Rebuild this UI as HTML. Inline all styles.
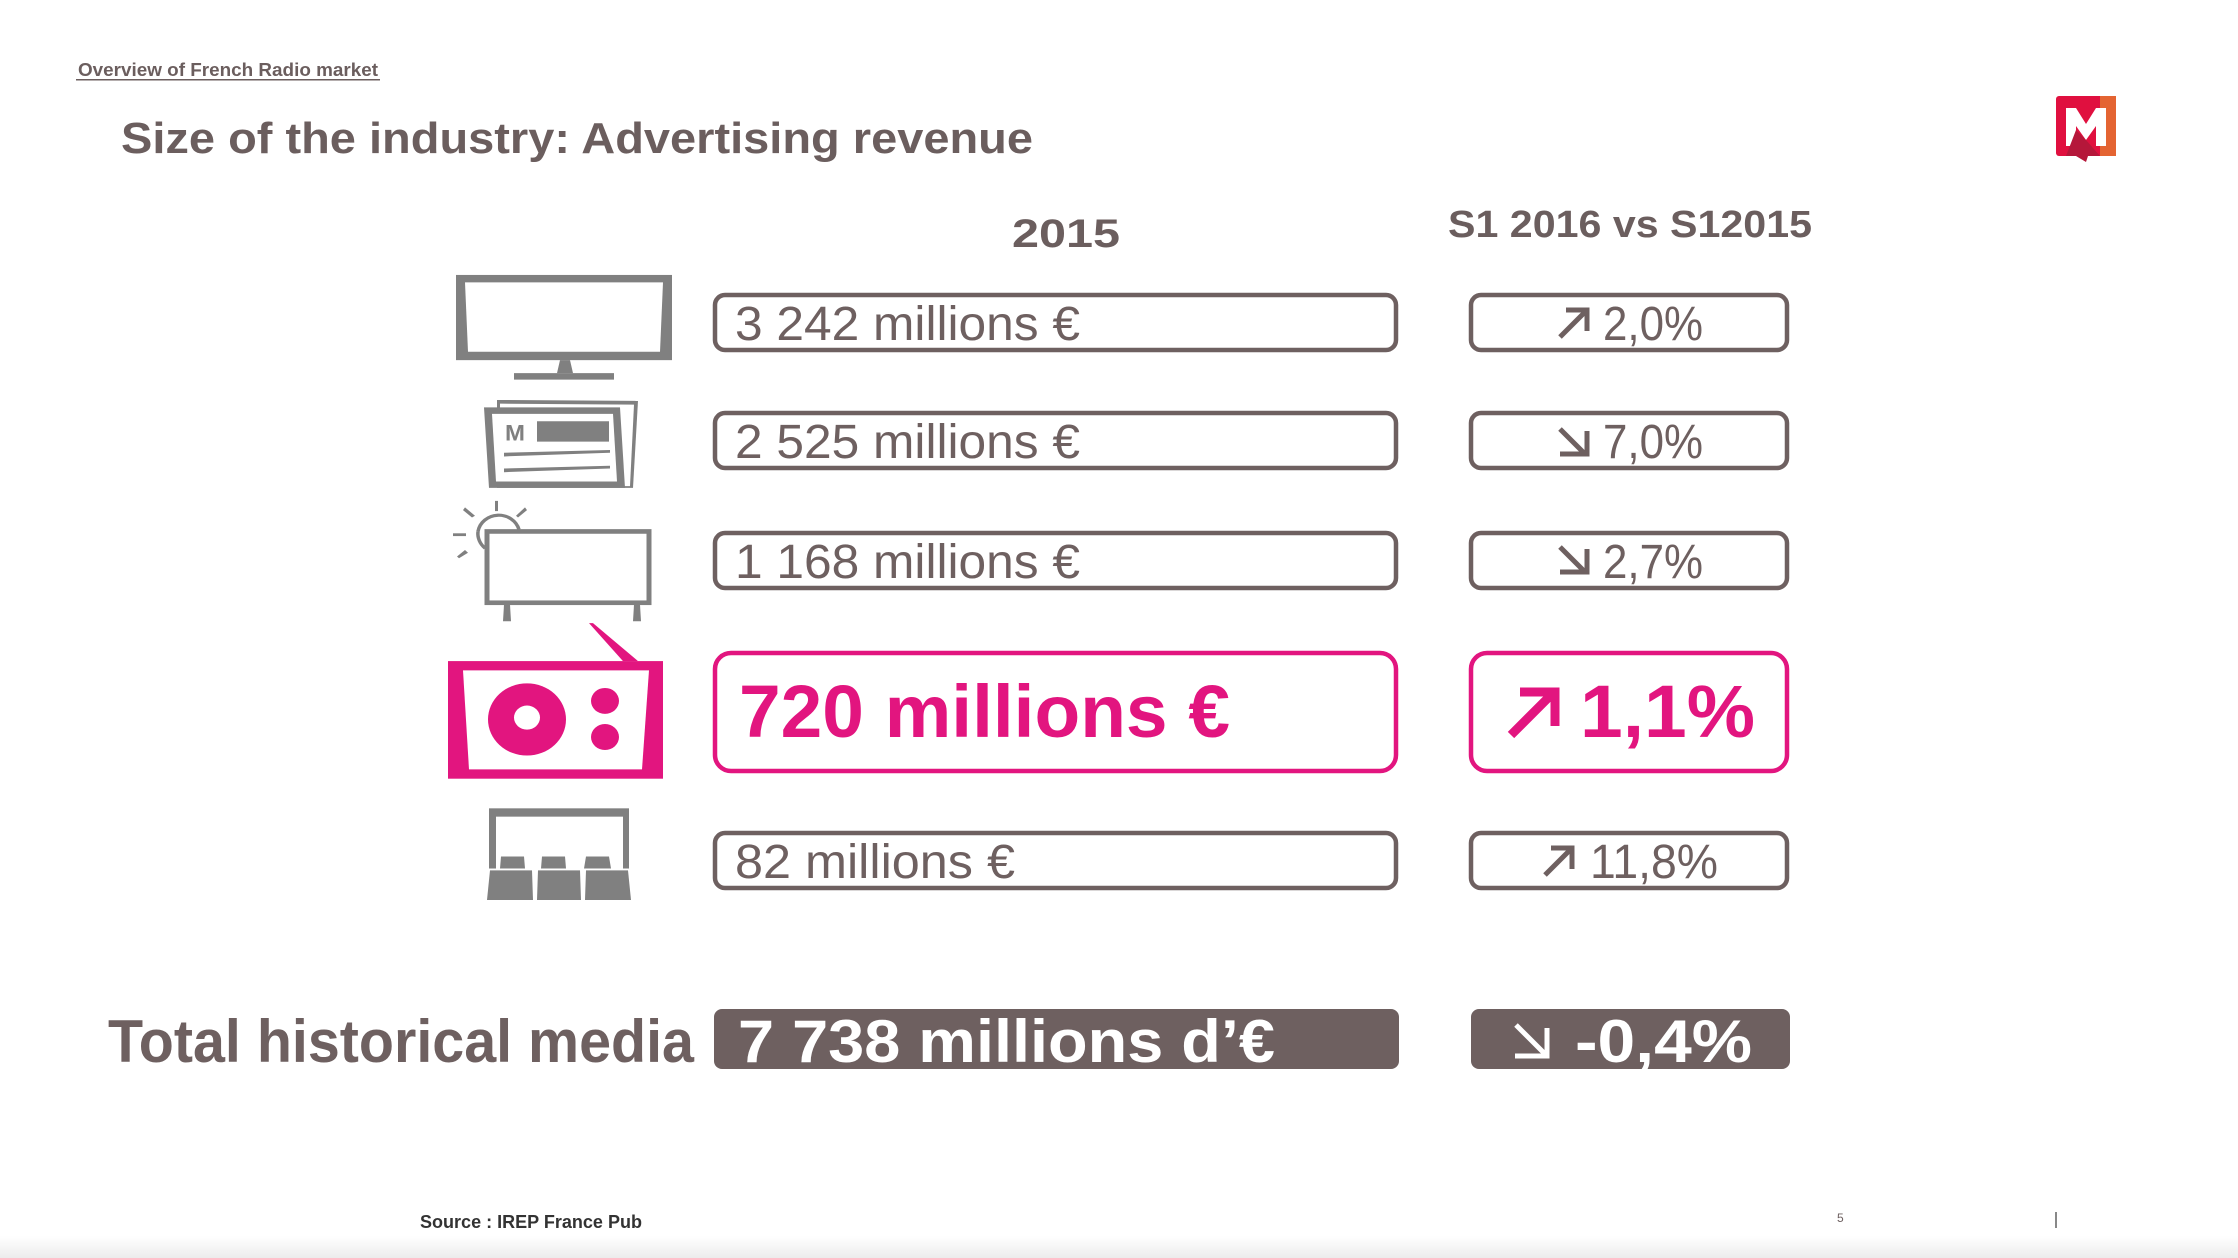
<!DOCTYPE html>
<html><head><meta charset="utf-8"><style>
html,body{margin:0;padding:0;background:#fff;width:2238px;height:1258px;overflow:hidden}
svg{display:block}
text{font-family:"Liberation Sans",sans-serif}
</style></head><body>
<svg width="2238" height="1258" viewBox="0 0 2238 1258" xmlns="http://www.w3.org/2000/svg">
<defs><linearGradient id="bg" x1="0" y1="0" x2="0" y2="1"><stop offset="0" stop-color="#fff"/><stop offset="1" stop-color="#ececec"/></linearGradient></defs>
<rect x="0" y="1236" width="2238" height="22" fill="url(#bg)"/>
<text x="78" y="76" font-size="18" font-weight="bold" fill="#6b5e5e" textLength="300" lengthAdjust="spacingAndGlyphs">Overview of French Radio market</text>
<rect x="76" y="79" width="304" height="1.5" fill="#6b5e5e"/>
<text x="121" y="153" font-size="44" font-weight="bold" fill="#6b5e5e" textLength="912" lengthAdjust="spacingAndGlyphs">Size of the industry: Advertising revenue</text>
<g>
<rect x="2056" y="96" width="60" height="60" rx="3" fill="#e0103f"/>
<polygon points="2100,96 2116,96 2116,156 2100,156" fill="#e46432"/>
<polygon points="2066,108 2076,108 2086,124 2096,108 2106,108 2106,146 2096,146 2096,126 2086,140 2076,126 2076,146 2066,146" fill="#fff"/>
<polygon points="2076,130 2086,140 2100,156 2088,156 2086,162 2076,156 2066,156" fill="#b5173a"/>
</g>
<text x="1066" y="247" font-size="40" font-weight="bold" fill="#6b5e5e" text-anchor="middle" textLength="108" lengthAdjust="spacingAndGlyphs">2015</text>
<text x="1630" y="237" font-size="38" font-weight="bold" fill="#6b5e5e" text-anchor="middle" textLength="364" lengthAdjust="spacingAndGlyphs">S1 2016 vs S12015</text>
<g fill="none" stroke="#6e6060" stroke-width="4.5">
<rect x="715" y="295" width="681" height="55" rx="10"/>
<rect x="1471" y="295" width="316" height="55" rx="10"/>
<rect x="715" y="413" width="681" height="55" rx="10"/>
<rect x="1471" y="413" width="316" height="55" rx="10"/>
<rect x="715" y="533" width="681" height="55" rx="10"/>
<rect x="1471" y="533" width="316" height="55" rx="10"/>
<rect x="715" y="833" width="681" height="55" rx="10"/>
<rect x="1471" y="833" width="316" height="55" rx="10"/>
</g>
<g fill="none" stroke="#e2157f" stroke-width="4.5">
<rect x="715" y="653" width="681" height="118" rx="16"/>
<rect x="1471" y="653" width="316" height="118" rx="16"/>
</g>
<rect x="714" y="1009" width="685" height="60" rx="8" fill="#6e6060"/>
<rect x="1471" y="1009" width="319" height="60" rx="8" fill="#6e6060"/>
<g font-size="48" fill="#6e6060">
<text x="735" y="340" textLength="345" lengthAdjust="spacingAndGlyphs">3 242 millions €</text>
<text x="735" y="458" textLength="345" lengthAdjust="spacingAndGlyphs">2 525 millions €</text>
<text x="735" y="578" textLength="345" lengthAdjust="spacingAndGlyphs">1 168 millions €</text>
<text x="735" y="878" textLength="280" lengthAdjust="spacingAndGlyphs">82 millions €</text>
<text x="1603" y="340" textLength="100" lengthAdjust="spacingAndGlyphs">2,0%</text>
<text x="1603" y="458" textLength="100" lengthAdjust="spacingAndGlyphs">7,0%</text>
<text x="1603" y="578" textLength="100" lengthAdjust="spacingAndGlyphs">2,7%</text>
<text x="1590" y="878" textLength="128" lengthAdjust="spacingAndGlyphs">11,8%</text>
</g>
<g fill="none" stroke="#6e6060" stroke-width="5">
<path d="M1560,337 L1585,312 M1566,310 L1587,310 L1587,331"/>
<path d="M1560,431 L1585,456 M1560,456 L1587,456 L1587,433" transform="translate(0,-2)"/>
<path d="M1560,549 L1585,574 M1560,574 L1587,574 L1587,551" transform="translate(0,-2)"/>
<path d="M1545,875 L1570,850 M1551,848 L1572,848 L1572,869"/>
</g>
<text x="739" y="737" font-size="74" font-weight="bold" fill="#e2157f" textLength="491" lengthAdjust="spacingAndGlyphs">720 millions €</text>
<text x="1580" y="737" font-size="74" font-weight="bold" fill="#e2157f" textLength="175" lengthAdjust="spacingAndGlyphs">1,1%</text>
<path d="M1511,735 L1550,696 M1520,692 L1555,692 L1555,726" fill="none" stroke="#e2157f" stroke-width="9"/>
<text x="108" y="1062" font-size="60" font-weight="bold" fill="#6e6060" textLength="586" lengthAdjust="spacingAndGlyphs">Total historical media</text>
<text x="738" y="1062" font-size="60" font-weight="bold" fill="#fff" textLength="537" lengthAdjust="spacingAndGlyphs">7 738 millions d’€</text>
<text x="1575" y="1062" font-size="60" font-weight="bold" fill="#fff" textLength="177" lengthAdjust="spacingAndGlyphs">-0,4%</text>
<path d="M1516,1025 L1545,1054 M1515,1056 L1547,1056 L1547,1028" fill="none" stroke="#fff" stroke-width="5"/>
<text x="420" y="1228" font-size="18" font-weight="bold" fill="#333" textLength="222" lengthAdjust="spacingAndGlyphs">Source : IREP France Pub</text>
<text x="1837" y="1222" font-size="12" fill="#6e6060">5</text>
<rect x="2055" y="1212" width="2" height="16" fill="#888"/>
<g transform="translate(0,20.3) scale(1,0.926)">
<g fill="#808080">
<rect x="456" y="275" width="216" height="92"/>
<polygon points="465,283 663,283 660,358 468,358" fill="#fff"/>
<polygon points="560,367 570,367 573,381 557,381"/>
<polygon points="514,381 614,381 614,388 514,388"/>
<polygon points="497,410 638,411 633,505 497,505"/>
<polygon points="500,414 634,415 630,503 500,503" fill="#fff"/>
<polygon points="484,418 620,418 625,505 489,505"/>
<polygon points="492,425 613,425 617,498 496,498" fill="#fff"/>
<text x="505" y="454" font-size="24" font-weight="bold" fill="#808080">M</text>
<rect x="537" y="433" width="72" height="22"/>
<polygon points="504,467 610,464 610,467 504,471"/>
<polygon points="504,484 610,481 610,484 504,488"/>
<rect x="487" y="552" width="162" height="77" fill="#fff" stroke="#808080" stroke-width="5"/>
<path d="M478,552 A21,21 0 0 1 519,550" fill="none" stroke="#808080" stroke-width="3.5"/>
<path d="M478,552 A21,21 0 0 0 485,570" fill="none" stroke="#808080" stroke-width="3.5"/>
<polygon points="495,519 498,519 498,530 495,530"/>
<polygon points="465,526 475,535 472,537 463,529"/>
<polygon points="525,526 527,529 518,537 516,535"/>
<rect x="453" y="554" width="13" height="3"/>
<polygon points="465,572 468,575 459,581 457,579"/>
<polygon points="504,631 510,631 511,649 503,649"/>
<polygon points="634,631 640,631 641,649 633,649"/>
<rect x="489" y="851" width="140" height="65"/>
<rect x="496" y="860" width="127" height="60" fill="#fff"/>
<polygon points="501,903 524,903 525,916 500,916"/>
<polygon points="542,903 565,903 566,916 541,916"/>
<polygon points="586,903 609,903 611,916 584,916"/>
<polygon points="490,918 532,918 533,950 487,950"/>
<polygon points="538,918 580,918 581,950 537,950"/>
<polygon points="586,918 628,918 631,950 585,950"/>
</g>
<g fill="#e2157f">
<polygon points="589,651 593,651 638,692 623,692"/>
<rect x="448" y="692" width="215" height="127"/>
<polygon points="463,702 649,702 642,809 469,809" fill="#fff"/>
<circle cx="527" cy="755" r="39"/>
<circle cx="527" cy="753" r="13" fill="#fff"/>
<circle cx="605" cy="735" r="14"/>
<circle cx="605" cy="774" r="14"/>
</g>
</g>
</svg>
</body></html>
